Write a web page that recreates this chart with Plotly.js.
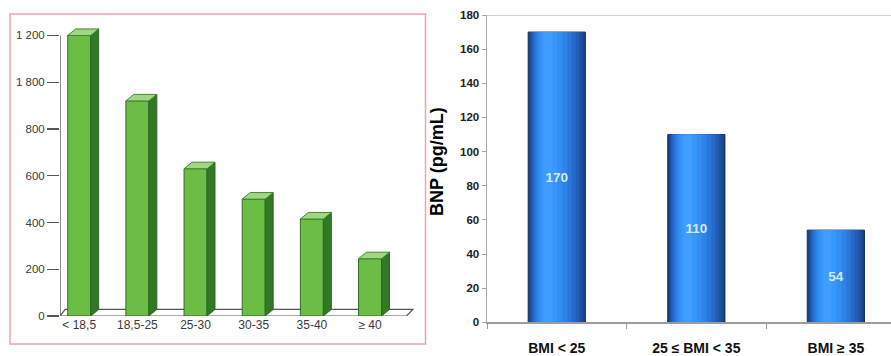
<!DOCTYPE html>
<html>
<head>
<meta charset="utf-8">
<script src="https://cdn.plot.ly/plotly-3.0.1.min.js"></script>
<style>
  html, body { margin: 0; padding: 0; background: #ffffff; }
  #chart { width: 891px; height: 356px; }
</style>
</head>
<body>
<div id="chart"></div>
<script>
// Left panel: counts by BMI class (green 3D columns)
const bmiClasses = ['< 18,5', '18,5-25', '25-30', '30-35', '35-40', '≥ 40'];
const classValues = [1200, 920, 630, 500, 415, 245];
const leftTickVals = [0, 200, 400, 600, 800, 1000, 1200];
const leftTickText = ['0', '200', '400', '600', '800', '1 800', '1 200'];

// Right panel: BNP by BMI group (blue columns)
const bnpGroups = ['BMI < 25', '25 ≤ BMI < 35', 'BMI ≥ 35'];
const bnpValues = [170, 110, 54];

// 3D look for the green columns
const colW = 0.395;   // front face width (category units)
const depthX = 0.137; // side face depth (category units)
const depthY = 28;    // side face rise (value units)
const xLeftMin = -0.33, xLeftMax = 5.79;

const idx = bmiClasses.map((_, i) => i);

const frontBars = {
  type: 'bar', x: idx, y: classValues, width: colW,
  marker: { color: '#6cbd45', line: { color: '#2e7020', width: 1 } },
  xaxis: 'x', yaxis: 'y', hoverinfo: 'skip', showlegend: false
};

// side and top faces of each column, computed from the values
const sideX = [], sideY = [], topX = [], topY = [];
idx.forEach((i) => {
  const v = classValues[i];
  const r = i + colW / 2, l = i - colW / 2;
  sideX.push(r, r + depthX, r + depthX, r, r, null);
  sideY.push(0, depthY, v + depthY, v, 0, null);
  topX.push(l, r, r + depthX, l + depthX, l, null);
  topY.push(v, v, v + depthY, v + depthY, v, null);
});
const sideFaces = {
  type: 'scatter', mode: 'lines', x: sideX, y: sideY, fill: 'toself',
  fillcolor: '#337826', line: { color: '#2a6a1e', width: 1 },
  xaxis: 'x', yaxis: 'y', hoverinfo: 'skip', showlegend: false
};
const topFaces = {
  type: 'scatter', mode: 'lines', x: topX, y: topY, fill: 'toself',
  fillcolor: '#a2d684', line: { color: '#3f8a2c', width: 1 },
  xaxis: 'x', yaxis: 'y', hoverinfo: 'skip', showlegend: false
};

// Blue columns: stacked overlay layers give a cylindrical shading,
// dark at both edges with the highlight left of centre
const shadeLayers = [
  { off: -0.205, w: 0.41, c: '#173a78' },
  { off: -0.198, w: 0.395, c: '#1b4690' },
  { off: -0.19, w: 0.37, c: '#1f52a5' },
  { off: -0.18, w: 0.34, c: '#225eb8' },
  { off: -0.17, w: 0.305, c: '#256aca' },
  { off: -0.158, w: 0.265, c: '#2977da' },
  { off: -0.145, w: 0.22, c: '#2d83e8' },
  { off: -0.13, w: 0.17, c: '#328ef3' },
  { off: -0.112, w: 0.115, c: '#3897fb' },
  { off: -0.092, w: 0.06, c: '#3f9eff' }
];
const blueTraces = shadeLayers.map((s, k) => ({
  type: 'bar', x: bnpGroups, y: bnpValues, offset: s.off, width: s.w,
  marker: { color: s.c, line: { color: k === 0 ? '#123063' : s.c, width: k === 0 ? 1 : 0 } },
  xaxis: 'x2', yaxis: 'y2', hoverinfo: 'skip', showlegend: false
}));
const blueLabels = {
  type: 'bar', x: bnpGroups, y: bnpValues, offset: -0.205, width: 0.41,
  marker: { color: 'rgba(0,0,0,0)' },
  text: bnpValues.map(String), textposition: 'inside', insidetextanchor: 'middle',
  textfont: { family: 'Liberation Sans, Arial, sans-serif', size: 13.5, color: '#d4eaff', weight: 'bold' },
  xaxis: 'x2', yaxis: 'y2', hoverinfo: 'skip', showlegend: false
};

const W = 891, H = 356;
const px = (v) => v / W;
const py = (v) => (H - v) / H;

const layout = {
  width: W, height: H,
  margin: { l: 0, r: 0, t: 0, b: 0 },
  paper_bgcolor: '#ffffff', plot_bgcolor: 'rgba(0,0,0,0)',
  barmode: 'overlay', showlegend: false,
  xaxis: {
    domain: [px(60), px(416)], range: [xLeftMin, xLeftMax],
    tickvals: idx, ticktext: bmiClasses, ticks: '',
    showline: false, showgrid: false, zeroline: false,
    tickfont: { family: 'Liberation Sans Narrow, Arial Narrow, sans-serif', size: 12, color: '#3a3a3a' },
    fixedrange: true
  },
  yaxis: {
    domain: [py(316), py(19.1)], range: [0, 1270],
    tickvals: leftTickVals, ticktext: leftTickText,
    ticks: 'outside', ticklen: 12, tickcolor: '#555555', tickwidth: 1.3,
    showline: false, showgrid: false, zeroline: false,
    tickfont: { family: 'Liberation Sans Narrow, Arial Narrow, sans-serif', size: 11.5, color: '#3a3a3a' },
    fixedrange: true
  },
  xaxis2: {
    domain: [px(487), 1], range: [-0.5, 2.395], type: 'category',
    anchor: 'y2', showline: true, linecolor: '#9c9c9c', linewidth: 2,
    ticks: 'outside', tickson: 'boundaries', ticklen: 5, tickcolor: '#9c9c9c',
    showgrid: false, zeroline: false,
    tickfont: { family: 'Liberation Sans, Arial, sans-serif', size: 14, color: '#111111', weight: 'bold' },
    ticklabelstandoff: 12,
    fixedrange: true
  },
  yaxis2: {
    domain: [py(322.3), py(15)], range: [0, 180], dtick: 20,
    anchor: 'x2', showline: true, linecolor: '#a8a8a8', linewidth: 1.5,
    ticks: 'outside', ticklen: 4, tickcolor: '#a8a8a8',
    showgrid: false, zeroline: false,
    tickfont: { family: 'Liberation Sans, Arial, sans-serif', size: 11.5, color: '#222222', weight: 'bold' },
    fixedrange: true
  },
  shapes: [
    // frame around the left panel
    { type: 'rect', xref: 'paper', yref: 'paper', x0: px(10), x1: px(425.5), y0: py(344), y1: py(14),
      line: { color: '#f2a3a8', width: 1.5 }, fillcolor: 'rgba(0,0,0,0)' },
    // floor of the 3D columns
    { type: 'path', xref: 'x', yref: 'y', layer: 'below',
      path: `M ${xLeftMin},0 L 5.627,0 L ${5.627 + 0.11},${depthY} L ${xLeftMin + 0.09},${depthY} Z`,
      line: { color: '#555555', width: 1.2 }, fillcolor: '#ffffff' },
    // vertical value axis of the left panel
    { type: 'line', xref: 'x', yref: 'y', x0: xLeftMin, x1: xLeftMin, y0: 0, y1: 1200,
      line: { color: '#666666', width: 1.5 } },
    // top rule of the right panel
    { type: 'line', xref: 'paper', yref: 'y2', x0: px(487), x1: 1, y0: 180, y1: 180,
      line: { color: '#d6d1c6', width: 2 } }
  ],
  annotations: [
    { text: 'BNP (pg/mL)', textangle: -90, xref: 'paper', yref: 'paper',
      x: px(437), y: py(162), showarrow: false, xanchor: 'center', yanchor: 'middle',
      font: { family: 'Liberation Sans, Arial, sans-serif', size: 18, color: '#000000', weight: 'bold' } }
  ]
};

Plotly.newPlot('chart', [frontBars, sideFaces, topFaces, ...blueTraces, blueLabels], layout,
  { staticPlot: true, displayModeBar: false });
</script>
</body>
</html>
